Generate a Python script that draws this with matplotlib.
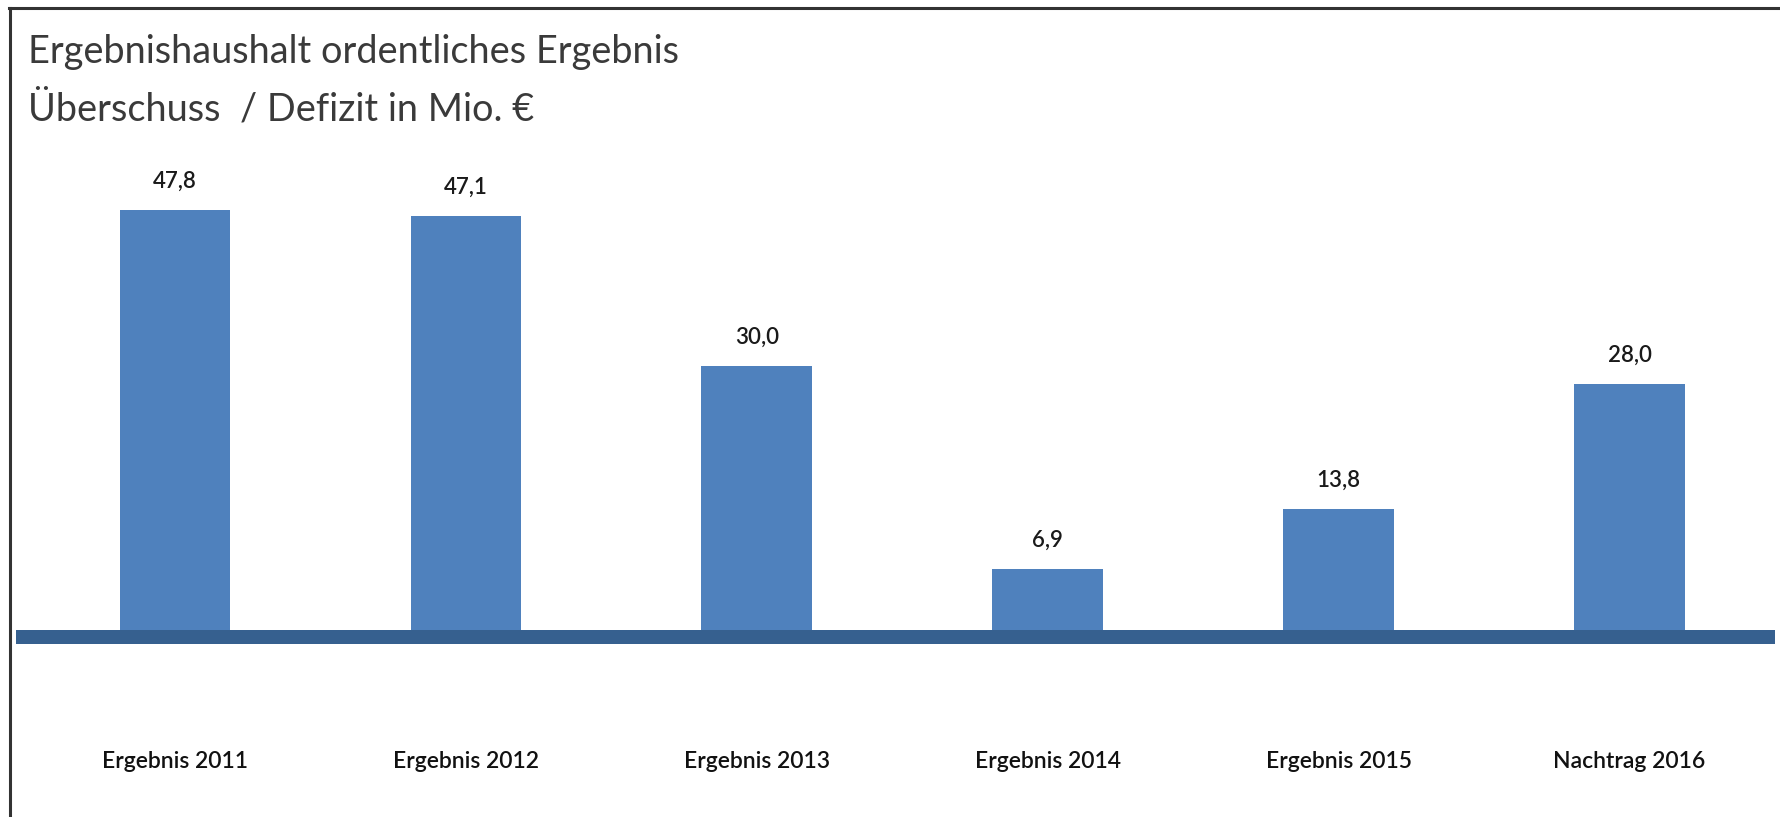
import matplotlib
matplotlib.use("Agg")
import matplotlib.pyplot as plt
from matplotlib.lines import Line2D

categories = ["Ergebnis 2011", "Ergebnis 2012", "Ergebnis 2013",
              "Ergebnis 2014", "Ergebnis 2015", "Nachtrag 2016"]
values = [47.8, 47.1, 30.0, 6.9, 13.8, 28.0]
value_labels = ["47,8", "47,1", "30,0", "6,9", "13,8", "28,0"]
title_lines = ["Ergebnishaushalt ordentliches Ergebnis",
               "Überschuss  / Defizit in Mio. €"]

FONT = ["Lato", "DejaVu Sans"]
W, H = 1780, 817
fig = plt.figure(figsize=(W / 100, H / 100), dpi=100)

# axes box in pixels: x 16..1775, y (from top) 130..700, baseline at 630
px_per_unit = 8.787
top_px, base_px, bot_px = 130, 630, 700
ymax = (base_px - top_px) / px_per_unit
ymin = (base_px - bot_px) / px_per_unit
ax = fig.add_axes([16 / W, (H - bot_px) / H, (1775 - 16) / W, (bot_px - top_px) / H])
ax.set_xlim(-0.546, 5.5)
ax.set_ylim(ymin, ymax)
for s in ax.spines.values():
    s.set_visible(False)
ax.set_yticks([])

x = list(range(len(categories)))
ax.bar(x, values, width=0.38, color="#4F81BD", zorder=2)

# thick baseline just under the bars
ax.axhline(-7 / px_per_unit, color="#36608F", lw=14 * 0.72, solid_capstyle="butt", zorder=3)

for xi, v, lab in zip(x, values, value_labels):
    ax.annotate(lab, (xi, v), xytext=(0, 16), textcoords="offset points",
                ha="center", va="baseline", fontsize=16, color="#1a1a1a",
                family=FONT, weight="semibold")

ax.set_xticks(x)
ax.set_xticklabels(categories, fontsize=16.5, color="#111111",
                   family=FONT, weight="semibold")
ax.tick_params(axis="x", length=0, pad=37)

fig.text(28 / W, 1 - 63 / H, title_lines[0], fontsize=27.3, color="#3a3a3a",
         va="baseline", ha="left", family=FONT)
fig.text(28 / W, 1 - 120 / H, title_lines[1], fontsize=27.3, color="#3a3a3a",
         va="baseline", ha="left", family=FONT)

# frame: top and left only
fig.add_artist(Line2D([9 / W, 1], [1 - 8 / H, 1 - 8 / H], color="#333333", lw=2.2,
                      transform=fig.transFigure))
fig.add_artist(Line2D([10 / W, 10 / W], [0, 1 - 8 / H], color="#333333", lw=2.2,
                      transform=fig.transFigure))

fig.savefig("out.png", dpi=100)
